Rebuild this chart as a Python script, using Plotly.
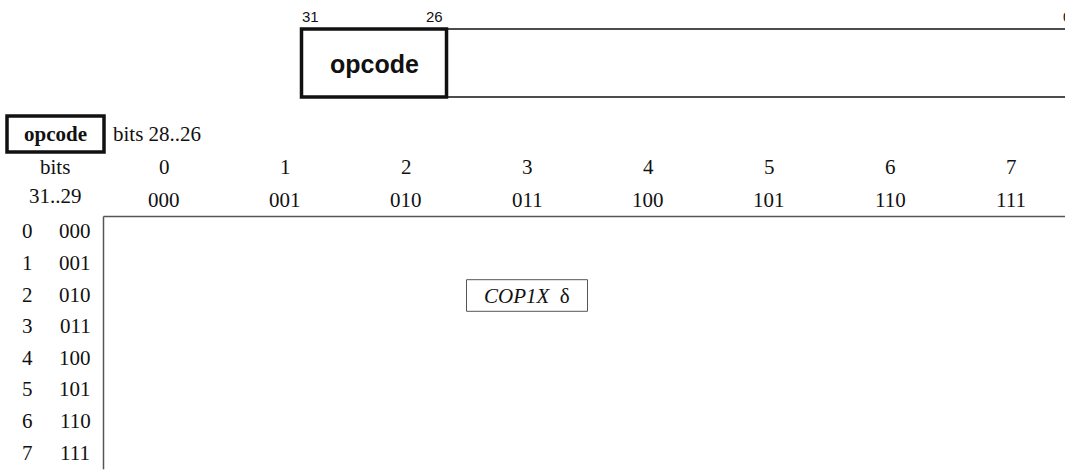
import plotly.graph_objects as go

# ---- data ----
word_bits_hi = 31
word_bits_lo = 0
field_names = ["opcode"]
field_hi = [31]
field_lo = [26]

col_codes = ["0", "1", "2", "3", "4", "5", "6", "7"]
col_bits = ["000", "001", "010", "011", "100", "101", "110", "111"]
row_codes = ["0", "1", "2", "3", "4", "5", "6", "7"]
row_bits = ["000", "001", "010", "011", "100", "101", "110", "111"]

cell_rows = [2]
cell_cols = [3]
cell_texts = ["<i>COP1X</i>  δ"]

table_title = "opcode"
col_header = "bits 28..26"
row_header = ["bits", "31..29"]

# ---- layout geometry (pixels) ----
W, H = 1065, 471
BIT_LEFT = 301.5       # left edge of bit 31
BIT_W = 24.17          # width of one bit
WORD_TOP, WORD_BOT = 29, 97

COL_X0 = 103.5         # left edge of column 0
COL_W = 121.0
ROW_Y0 = 216.5         # top edge of row 0
ROW_H = 31.6

SERIF = "Liberation Serif"
SANS = "Liberation Sans"
FS = 21
INK = "#111111"
LINE = "#555555"


def bit_left(b):
    return BIT_LEFT + (word_bits_hi - b) * BIT_W


def bit_right(b):
    return BIT_LEFT + (word_bits_hi - b + 1) * BIT_W


def col_c(c):
    return COL_X0 + (c + 0.5) * COL_W


def row_c(r):
    return ROW_Y0 + (r + 0.5) * ROW_H


fig = go.Figure()
shapes = []
ann = []

# ---- instruction word diagram ----
word_l = bit_left(word_bits_hi)
word_r = bit_right(word_bits_lo)
shapes.append(dict(type="line", x0=word_l, x1=word_r, y0=WORD_TOP, y1=WORD_TOP,
                   line=dict(color=INK, width=1.5)))
shapes.append(dict(type="line", x0=word_l, x1=word_r, y0=WORD_BOT, y1=WORD_BOT,
                   line=dict(color=INK, width=1.5)))
shapes.append(dict(type="line", x0=word_r, x1=word_r, y0=WORD_TOP, y1=WORD_BOT,
                   line=dict(color=INK, width=1.5)))
for name, hi, lo in zip(field_names, field_hi, field_lo):
    x0, x1 = bit_left(hi), bit_right(lo)
    shapes.append(dict(type="rect", x0=x0, x1=x1, y0=WORD_TOP, y1=WORD_BOT,
                       line=dict(color=INK, width=3.5), fillcolor="white"))
    ann.append(dict(x=(x0 + x1) / 2, y=(WORD_TOP + WORD_BOT) / 2 + 1, text=f"<b>{name}</b>",
                    font=dict(family=SANS, size=25, color=INK),
                    xanchor="center", yanchor="middle", xref="x"))
    ann.append(dict(x=x0 - 2, y=WORD_TOP - 2, text=str(hi),
                    font=dict(family=SANS, size=15, color=INK),
                    xanchor="left", yanchor="bottom", xref="x"))
    ann.append(dict(x=x1 - 2, y=WORD_TOP - 2, text=str(lo),
                    font=dict(family=SANS, size=15, color=INK),
                    xanchor="right", yanchor="bottom", xref="x"))
# the right end of the word lies past the page edge: place it in paper units
ann.append(dict(x=(word_r - 2) / W, y=WORD_TOP - 2, text=str(word_bits_lo),
                font=dict(family=SANS, size=15, color=INK),
                xanchor="right", yanchor="bottom", xref="paper"))

# ---- opcode table ----
ttl_y = 134
shapes.append(dict(type="rect", x0=7, x1=104, y0=116, y1=152,
                   line=dict(color=INK, width=3.5)))
ann.append(dict(x=55.5, y=ttl_y, text=f"<b>{table_title}</b>",
                font=dict(family=SERIF, size=FS, color=INK),
                xanchor="center", yanchor="middle", xref="x"))
ann.append(dict(x=111, y=ttl_y, text=col_header,
                font=dict(family=SERIF, size=FS, color=INK),
                xanchor="left", yanchor="middle", xref="x"))
ann.append(dict(x=55, y=167, text=row_header[0],
                font=dict(family=SERIF, size=FS, color=INK),
                xanchor="center", yanchor="middle", xref="x"))
ann.append(dict(x=55, y=196, text=row_header[1],
                font=dict(family=SERIF, size=FS, color=INK),
                xanchor="center", yanchor="middle", xref="x"))

for c, (code, bits) in enumerate(zip(col_codes, col_bits)):
    ann.append(dict(x=col_c(c), y=167, text=code,
                    font=dict(family=SERIF, size=FS, color=INK),
                    xanchor="center", yanchor="middle", xref="x"))
    ann.append(dict(x=col_c(c), y=200, text=bits,
                    font=dict(family=SERIF, size=FS, color=INK),
                    xanchor="center", yanchor="middle", xref="x"))

for r, (code, bits) in enumerate(zip(row_codes, row_bits)):
    ann.append(dict(x=27, y=row_c(r) - 1, text=code,
                    font=dict(family=SERIF, size=FS, color=INK),
                    xanchor="center", yanchor="middle", xref="x"))
    ann.append(dict(x=75, y=row_c(r) - 1, text=bits,
                    font=dict(family=SERIF, size=FS, color=INK),
                    xanchor="center", yanchor="middle", xref="x"))

# table frame (top and left edges)
table_r = COL_X0 + len(col_codes) * COL_W
table_b = ROW_Y0 + len(row_codes) * ROW_H
shapes.append(dict(type="line", x0=COL_X0, x1=table_r, y0=ROW_Y0, y1=ROW_Y0,
                   line=dict(color=LINE, width=1.5)))
shapes.append(dict(type="line", x0=COL_X0, x1=COL_X0, y0=ROW_Y0, y1=table_b,
                   line=dict(color=LINE, width=1.5)))

# table entries
for r, c, t in zip(cell_rows, cell_cols, cell_texts):
    x0 = COL_X0 + c * COL_W
    y0 = ROW_Y0 + r * ROW_H
    shapes.append(dict(type="rect", x0=x0, x1=x0 + COL_W, y0=y0, y1=y0 + ROW_H,
                       line=dict(color=LINE, width=1)))
    ann.append(dict(x=col_c(c), y=row_c(r), text=t,
                    font=dict(family=SERIF, size=FS, color=INK),
                    xanchor="center", yanchor="middle", xref="x"))

for a in ann:
    a.update(yref="y", showarrow=False)

fig.update_layout(
    width=W, height=H, autosize=False,
    margin=dict(l=0, r=0, t=0, b=0, pad=0),
    paper_bgcolor="white", plot_bgcolor="white",
    xaxis=dict(range=[0, W], visible=False, fixedrange=True),
    yaxis=dict(range=[H, 0], visible=False, fixedrange=True),
    shapes=shapes, annotations=ann, showlegend=False,
)

fig.write_html("out.html", config={"displayModeBar": False},
               post_script="document.body.style.margin='0';document.body.style.overflow='hidden';")
